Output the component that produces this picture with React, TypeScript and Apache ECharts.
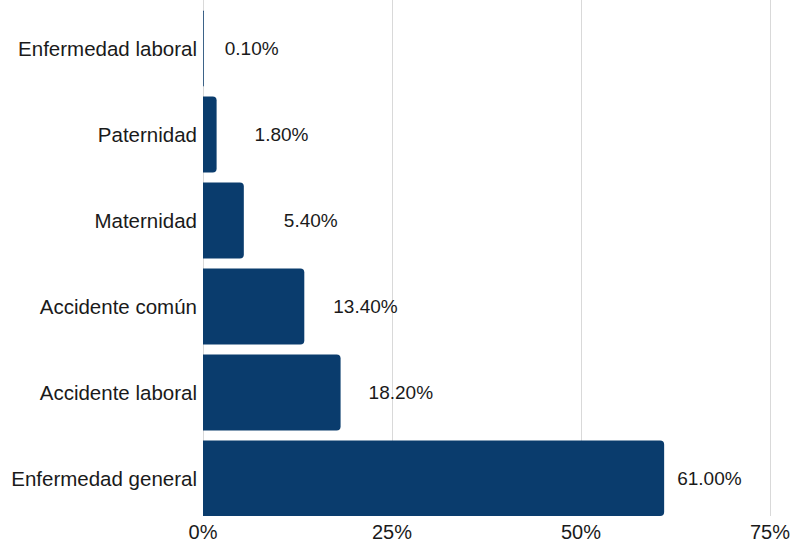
import React, { useEffect, useRef } from "react";
import * as echarts from "echarts";

const categories = [
  "Enfermedad general",
  "Accidente laboral",
  "Accidente común",
  "Maternidad",
  "Paternidad",
  "Enfermedad laboral",
];
const values = [61.0, 18.2, 13.4, 5.4, 1.8, 0.1];
const xTicks = [0, 25, 50, 75];
const labelGaps = [13, 28, 29, 40, 38, 21];

const FONT = "'Liberation Sans', Arial, sans-serif";

export default function App() {
  const ref = useRef<HTMLDivElement>(null);
  useEffect(() => {
    if (!ref.current) return;
    const chart = echarts.init(ref.current, undefined, { renderer: "svg" });
    chart.setOption({
      animation: false,
      textStyle: { fontFamily: FONT },
      grid: { left: 203, right: 22.5, top: -2, bottom: 22, containLabel: false },
      xAxis: {
        type: "value",
        min: xTicks[0],
        max: xTicks[xTicks.length - 1],
        interval: 25,
        axisLine: { show: false },
        axisTick: { show: false },
        splitLine: { show: true, lineStyle: { color: "#d9d9d9", width: 1 } },
        axisLabel: {
          formatter: "{value}%",
          fontSize: 20,
          color: "#1a1a1a",
          fontFamily: FONT,
          margin: 6,
        },
      },
      yAxis: {
        type: "category",
        data: categories,
        axisLine: { show: false },
        axisTick: { show: false },
        splitLine: { show: false },
        axisLabel: {
          fontSize: 20.5,
          color: "#1a1a1a",
          fontFamily: FONT,
          margin: 6,
          verticalAlign: "top",
          lineHeight: 10,
        },
      },
      series: [
        {
          type: "bar",
          barWidth: 11,
          barGap: "0%",
          silent: true,
          itemStyle: { color: "rgba(0,0,0,0)" },
          data: values.map(() => 0),
        },
        {
          type: "bar",
          barWidth: 76,
          barGap: "0%",
          itemStyle: { color: "#0a3c6d", borderRadius: [0, 4, 4, 0] },
          data: values.map((v, i) => ({
            value: v,
            label: { distance: labelGaps[i] },
          })),
          label: {
            show: true,
            position: "right",
            formatter: (p: any) => `${Number(p.value).toFixed(2)}%`,
            fontSize: 19,
            color: "#1a1a1a",
            fontFamily: FONT,
          },
        },
      ],
    });
    return () => chart.dispose();
  }, []);
  return <div ref={ref} style={{ width: 793, height: 542, position: "absolute", left: 0, top: 0 }} />;
}
